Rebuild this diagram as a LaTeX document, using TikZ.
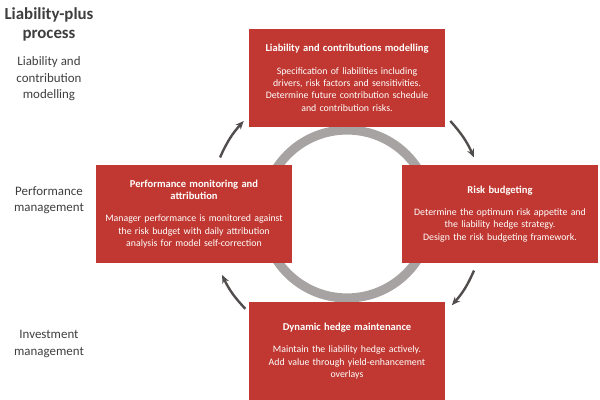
\documentclass[tikz,border=0pt]{standalone}
\usepackage{fontspec}
\setmainfont{Carlito}
\usepackage{xcolor}
\usepackage{tikz}
\usetikzlibrary{
  arrows.meta,
  positioning,
  calc
}
\definecolor{procred}{RGB}{192,56,49}
\definecolor{ringgray}{RGB}{168,163,163}
\definecolor{arrowgray}{RGB}{82,77,77}
\definecolor{labelgray}{RGB}{62,62,62}
\newcommand{\stagetitle}[1]{{\fontsize{7.5}{9.4}\selectfont\bfseries #1}}

\begin{document}
\begin{tikzpicture}[
  x=0.025cm, y=0.025cm,
  every node/.style={font=\fontsize{7}{8.8}\selectfont},
  stagenode/.style={rectangle, fill=procred, text=white, align=center,
    minimum width=4.875cm, minimum height=2.45cm, text width=4.5cm,
    inner sep=0pt},
  sidelabel/.style={align=center, text=labelgray,
    font=\fontsize{9.2}{11.8}\selectfont},
  headlabel/.style={align=center, text=labelgray,
    font=\fontsize{12}{13.5}\selectfont\bfseries},
  ringline/.style={draw=ringgray, line width=6.5pt},
  arr/.style={-{Stealth[length=6pt, width=5pt]}, line width=1.7pt,
    color=arrowgray},
]
  \useasboundingbox (0,0) rectangle (600,400);

  % Ring
  \coordinate (ctr) at (347,186);
  \draw[ringline] (ctr) circle[radius=84];

  % Nodes
  \node[stagenode] (lcm) at (347,322) {\stagetitle{Liability and contributions modelling}\\[7pt]
    Specification of liabilities including\\ drivers, risk factors and sensitivities.\\
    Determine future contribution schedule\\ and contribution risks.};
  \node[stagenode] (rb) at (500,186) {\stagetitle{Risk budgeting}\\[7pt]
    Determine the optimum risk appetite and\\ the liability hedge strategy.\\
    Design the risk budgeting framework.};
  \node[stagenode] (dhm) at (347,49) {\stagetitle{Dynamic hedge maintenance}\\[7pt]
    Maintain the liability hedge actively.\\ Add value through yield-enhancement\\ overlays};
  \node[stagenode] (pma) at (194,186) {\stagetitle{Performance monitoring and}\\ \stagetitle{attribution}\\[7pt]
    Manager performance is monitored against\\ the risk budget with daily attribution\\
    analysis for model self-correction};

  % Side labels
  \node[headlabel] (head) at (49,376) {Liability-plus\\ process};
  \node[sidelabel] (lab1) at (49,321) {Liability and\\ contribution\\ modelling};
  \node[sidelabel] (lab2) at (49,200) {Performance\\ management};
  \node[sidelabel] (lab3) at (49,56) {Investment\\ management};

  % Arrow ends
  \coordinate (a1) at ($(ctr)+(42:139)$);
  \coordinate (b1) at ($(ctr)+(24:139)$);
  \coordinate (a2) at ($(ctr)+(-24:139)$);
  \coordinate (b2) at ($(ctr)+(-41:139)$);
  \coordinate (a3) at ($(ctr)+(-137:139)$);
  \coordinate (b3) at ($(ctr)+(-154:139)$);
  \coordinate (a4) at ($(ctr)+(156:139)$);
  \coordinate (b4) at ($(ctr)+(138:139)$);

  % Edges
  \draw[arr] (a1) to[bend left=9] (b1);
  \draw[arr] (a2) to[bend left=9] (b2);
  \draw[arr] (a3) to[bend left=9] (b3);
  \draw[arr] (a4) to[bend left=9] (b4);
\end{tikzpicture}
\end{document}
